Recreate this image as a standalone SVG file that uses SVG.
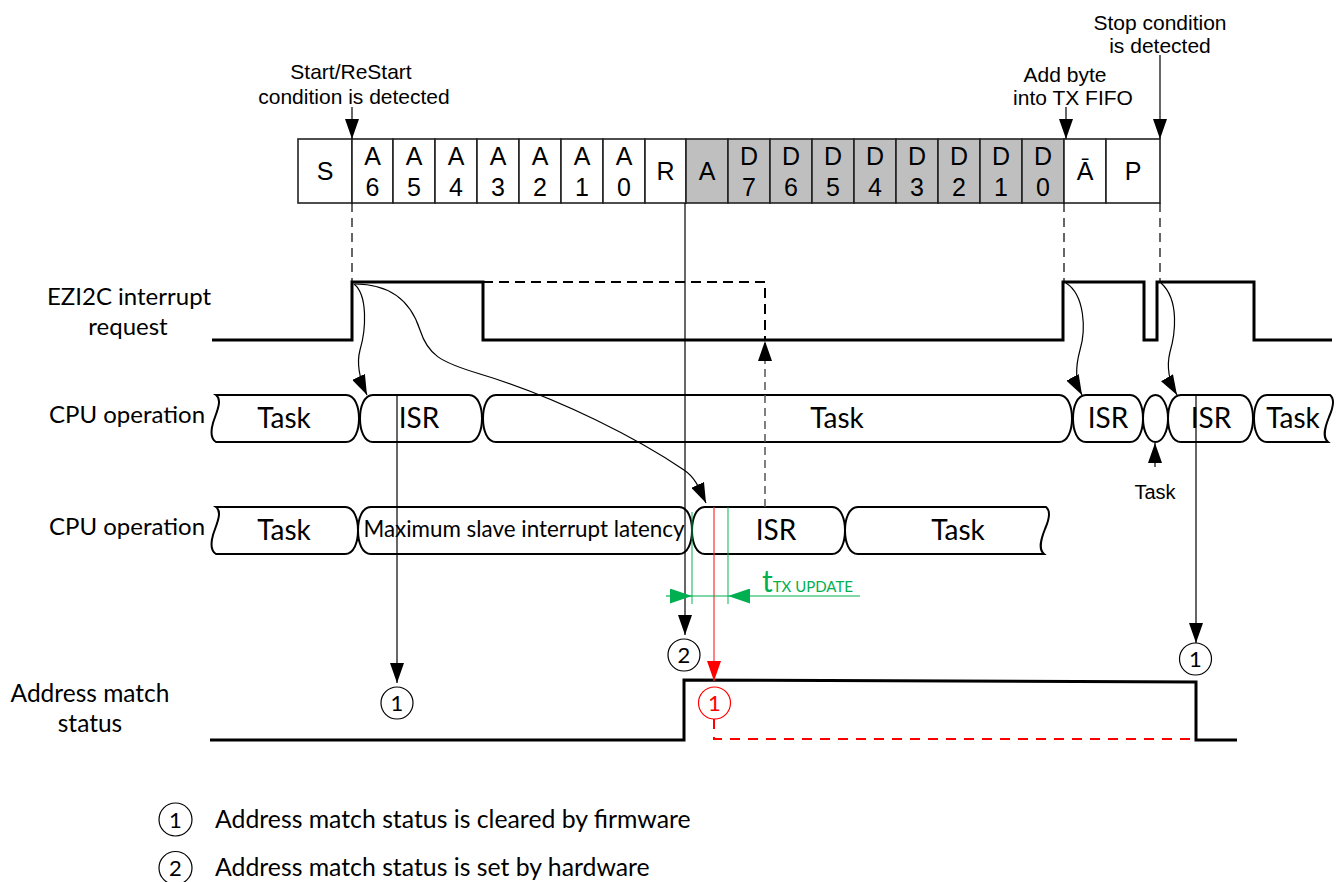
<svg xmlns="http://www.w3.org/2000/svg" width="1343" height="882" viewBox="0 0 1343 882">
<defs>
<style>
.ar{font-family:"Liberation Sans",Arial,sans-serif;fill:#000}
.cb{font-family:Lato,"Open Sans",sans-serif;fill:#000}
.cell{stroke:#222;stroke-width:1.6}
.wh{fill:#fff}
.gr{fill:#bfbfbf}
.seg{fill:#fff;stroke:#000;stroke-width:2}
.wave{fill:none;stroke:#000;stroke-width:3}
.thin{fill:none;stroke:#000;stroke-width:1.2}
.dsh{fill:none;stroke:#000;stroke-width:1.2;stroke-dasharray:9,6}
.circ{fill:#fff;stroke:#000;stroke-width:1.2}
</style>
<marker id="ah" viewBox="0 0 20 14" refX="20" refY="7" markerWidth="20" markerHeight="14" markerUnits="userSpaceOnUse" orient="auto"><path d="M0,0 L20,7 L0,14 Z" fill="#000"/></marker>
<marker id="ahr" viewBox="0 0 20 14" refX="20" refY="7" markerWidth="20" markerHeight="14" markerUnits="userSpaceOnUse" orient="auto"><path d="M0,0 L20,7 L0,14 Z" fill="#ff0000"/></marker>
<marker id="ahg" viewBox="0 0 22 15" refX="22" refY="7.5" markerWidth="22" markerHeight="15" markerUnits="userSpaceOnUse" orient="auto"><path d="M0,0 L22,7.5 L0,15 Z" fill="#00b050"/></marker>
</defs>
<rect width="1343" height="882" fill="#fff"/>

<!-- row labels -->
<g id="labels" class="cb" font-size="24" text-anchor="middle">
<text x="129" y="305">EZI2C interrupt</text>
<text x="128" y="335">request</text>
<text x="127" y="423">CPU operation</text>
<text x="127" y="535">CPU operation</text>
<text x="90" y="702" font-size="24.5">Address match</text>
<text x="90" y="732" font-size="24.5">status</text>
</g>

<!-- annotations -->
<g id="annotations" class="ar" font-size="21" text-anchor="middle">
<text x="351" y="79">Start/ReStart</text>
<text x="354" y="104">condition is detected</text>
<text x="1065" y="82">Add byte</text>
<text x="1073" y="105">into TX FIFO</text>
<text x="1160" y="30">Stop condition</text>
<text x="1160" y="53">is detected</text>
<text x="1155" y="499" font-size="20">Task</text>
</g>

<!-- bit field -->
<g id="bitfield" class="ar" font-size="25" text-anchor="middle">
<g id="bit-S"><rect class="cell wh" x="298" y="139" width="54" height="64"/><text x="325" y="180">S</text></g>
<g id="bit-A6"><rect class="cell wh" x="352" y="139" width="41" height="64"/><text x="372.5" y="165">A</text><text x="372.5" y="196">6</text></g>
<g id="bit-A5"><rect class="cell wh" x="393" y="139" width="42" height="64"/><text x="414" y="165">A</text><text x="414" y="196">5</text></g>
<g id="bit-A4"><rect class="cell wh" x="435" y="139" width="42" height="64"/><text x="456" y="165">A</text><text x="456" y="196">4</text></g>
<g id="bit-A3"><rect class="cell wh" x="477" y="139" width="42" height="64"/><text x="498" y="165">A</text><text x="498" y="196">3</text></g>
<g id="bit-A2"><rect class="cell wh" x="519" y="139" width="42" height="64"/><text x="540" y="165">A</text><text x="540" y="196">2</text></g>
<g id="bit-A1"><rect class="cell wh" x="561" y="139" width="42" height="64"/><text x="582" y="165">A</text><text x="582" y="196">1</text></g>
<g id="bit-A0"><rect class="cell wh" x="603" y="139" width="42" height="64"/><text x="624" y="165">A</text><text x="624" y="196">0</text></g>
<g id="bit-R"><rect class="cell wh" x="645" y="139" width="41" height="64"/><text x="665.5" y="180">R</text></g>
<g id="bit-A"><rect class="cell gr" x="686" y="139" width="42" height="64"/><text x="707" y="180">A</text></g>
<g id="bit-D7"><rect class="cell gr" x="728" y="139" width="42" height="64"/><text x="749" y="165">D</text><text x="749" y="196">7</text></g>
<g id="bit-D6"><rect class="cell gr" x="770" y="139" width="42" height="64"/><text x="791" y="165">D</text><text x="791" y="196">6</text></g>
<g id="bit-D5"><rect class="cell gr" x="812" y="139" width="42" height="64"/><text x="833" y="165">D</text><text x="833" y="196">5</text></g>
<g id="bit-D4"><rect class="cell gr" x="854" y="139" width="42" height="64"/><text x="875" y="165">D</text><text x="875" y="196">4</text></g>
<g id="bit-D3"><rect class="cell gr" x="896" y="139" width="42" height="64"/><text x="917" y="165">D</text><text x="917" y="196">3</text></g>
<g id="bit-D2"><rect class="cell gr" x="938" y="139" width="42" height="64"/><text x="959" y="165">D</text><text x="959" y="196">2</text></g>
<g id="bit-D1"><rect class="cell gr" x="980" y="139" width="42" height="64"/><text x="1001" y="165">D</text><text x="1001" y="196">1</text></g>
<g id="bit-D0"><rect class="cell gr" x="1022" y="139" width="42" height="64"/><text x="1043" y="165">D</text><text x="1043" y="196">0</text></g>
<g id="bit-NA"><rect class="cell wh" x="1064" y="139" width="42" height="64"/><text x="1085" y="180">Ā</text></g>
<g id="bit-P"><rect class="cell wh" x="1106" y="139" width="54" height="64"/><text x="1133" y="180">P</text></g>
</g>

<!-- waveforms -->
<g id="wave-irq"><path class="wave" d="M212,340 H352 V282 H483 V340 H1063 V282 H1144 V340 H1157 V282 H1254 V340 H1332"/></g>
<g id="wave-addr"><path class="wave" d="M210,740 H684 V680 L1196,682 V740 H1237"/></g>

<!-- CPU row 1 -->
<g id="cpu1">
<g id="cpu1-task1"><path class="seg" d="M216,395 H346 C355,395 359,407 359,418.5 C359,430 355,442 346,442 H216 C210,438 211,430 213,423 C216,413 223,400 216,395 Z"/><text class="cb" x="284" y="428" font-size="28" text-anchor="middle">Task</text></g>
<g id="cpu1-isr1"><path class="seg" d="M373,395 H469 C478,395 482,407 482,418.5 C482,430 478,442 469,442 H373 C364,442 360,430 360,418.5 C360,407 364,395 373,395 Z"/><text class="cb" x="419" y="428" font-size="28" text-anchor="middle">ISR</text></g>
<g id="cpu1-task2"><path class="seg" d="M496,395 H1059 C1068,395 1072,407 1072,418.5 C1072,430 1068,442 1059,442 H496 C487,442 483,430 483,418.5 C483,407 487,395 496,395 Z"/><text class="cb" x="837" y="428" font-size="28" text-anchor="middle">Task</text></g>
<g id="cpu1-isr2"><path class="seg" d="M1086,395 H1130 C1139,395 1143,407 1143,418.5 C1143,430 1139,442 1130,442 H1086 C1077,442 1073,430 1073,418.5 C1073,407 1077,395 1086,395 Z"/><text class="cb" x="1108" y="428" font-size="28" text-anchor="middle">ISR</text></g>
<g id="cpu1-task3"><ellipse class="seg" cx="1155.5" cy="418.5" rx="12.5" ry="23.5"/></g>
<g id="cpu1-isr3"><path class="seg" d="M1181,395 H1240 C1249,395 1253,407 1253,418.5 C1253,430 1249,442 1240,442 H1181 C1172,442 1168,430 1168,418.5 C1168,407 1172,395 1181,395 Z"/><text class="cb" x="1211" y="428" font-size="28" text-anchor="middle">ISR</text></g>
<g id="cpu1-task4"><path class="seg" d="M1267,395 H1330 C1335,399 1333,408 1329,417 C1325,427 1322,437 1328,442 H1267 C1258,442 1254,430 1254,418.5 C1254,407 1258,395 1267,395 Z"/><text class="cb" x="1293" y="428" font-size="28" text-anchor="middle">Task</text></g>
</g>

<!-- CPU row 2 -->
<g id="cpu2">
<g id="cpu2-task1"><path class="seg" d="M216,507 H345 C354,507 358,519 358,530.5 C358,542 354,554 345,554 H216 C210,550 211,542 213,535 C216,525 223,512 216,507 Z"/><text class="cb" x="284" y="540" font-size="28" text-anchor="middle">Task</text></g>
<g id="cpu2-latency"><path class="seg" d="M371,507 H679 C688,507 692,519 692,530.5 C692,542 688,554 679,554 H371 C362,554 358,542 358,530.5 C358,519 362,507 371,507 Z"/><text class="cb" x="524" y="537" font-size="22.4" text-anchor="middle">Maximum slave interrupt latency</text></g>
<g id="cpu2-isr"><path class="seg" d="M705,507 H832 C841,507 845,519 845,530.5 C845,542 841,554 832,554 H705 C696,554 692,542 692,530.5 C692,519 696,507 705,507 Z"/><text class="cb" x="776" y="540" font-size="28" text-anchor="middle">ISR</text></g>
<g id="cpu2-task2"><path class="seg" d="M858,507 H1046 C1051,511 1049,520 1045,529 C1041,539 1038,549 1044,554 H858 C849,554 845,542 845,530.5 C845,519 849,507 858,507 Z"/><text class="cb" x="958" y="540" font-size="28" text-anchor="middle">Task</text></g>
</g>

<!-- connectors -->
<g id="connectors">
<path class="thin" d="M352,107 V139" marker-end="url(#ah)"/>
<path class="thin" d="M1066,107 V139" marker-end="url(#ah)"/>
<path class="thin" d="M1160,55 V139" marker-end="url(#ah)"/>
<path class="dsh" d="M352,203 V282"/>
<path class="dsh" d="M1064,203 V282"/>
<path class="dsh" d="M1160,203 V282"/>
<path d="M483,282 H765 V340" fill="none" stroke="#000" stroke-width="2" stroke-dasharray="10,6"/>
<path d="M765,507 V341" fill="none" stroke="#555" stroke-width="1.5" stroke-dasharray="8,5" marker-end="url(#ah)"/>
<path class="thin" d="M354,284 C368,295 366,330 360,350 C356,365 360,380 367,395" marker-end="url(#ah)"/>
<path class="thin" d="M355,284 C395,284 412,305 420,330 C428,355 440,362 480,374 C560,398 640,440 684,470 C696,478 700,490 706,503" marker-end="url(#ah)"/>
<path class="thin" d="M1066,283 C1085,295 1086,330 1080,350 C1075,368 1075,382 1082,395" marker-end="url(#ah)"/>
<path class="thin" d="M1161,283 C1180,300 1175,335 1170,352 C1166,368 1170,383 1177,395" marker-end="url(#ah)"/>
<path class="thin" d="M1155,467 V443" marker-end="url(#ah)"/>
<path class="thin" d="M397,395 V683" marker-end="url(#ah)"/>
<path class="thin" d="M1196,395 V643" marker-end="url(#ah)"/>
<path class="thin" d="M685,203 V635" marker-end="url(#ah)"/>
<path d="M714,507 V681" fill="none" stroke="#ff3030" stroke-width="1.2" marker-end="url(#ahr)"/>
<path d="M714,719 V739 H1196" fill="none" stroke="#ff0000" stroke-width="2" stroke-dasharray="10,8"/>
<path d="M692,512 V604 M728,507 V604" fill="none" stroke="#00b050" stroke-width="1.2" stroke-opacity="0.8"/>
<path d="M692,596 H728" fill="none" stroke="#00b050" stroke-width="1.2"/>
<path d="M666,596 H692" fill="none" stroke="#00b050" stroke-width="1.2" marker-end="url(#ahg)"/>
<path d="M860,596 H728" fill="none" stroke="#00b050" stroke-width="1.2" marker-end="url(#ahg)"/>
<text class="cb" x="762" y="592" font-size="30" style="fill:#00b050">t<tspan font-size="15">TX UPDATE</tspan></text>
</g>

<!-- markers -->
<g id="mark-1a"><circle class="circ" cx="397" cy="703" r="16"/><text class="cb" x="397" y="711" font-size="22" text-anchor="middle">1</text></g>
<g id="mark-1b"><circle cx="714.5" cy="703" r="16" fill="#fff" stroke="#ff0000" stroke-width="1.2"/><text class="cb" x="714.5" y="711" font-size="22" text-anchor="middle" style="fill:#ff0000">1</text></g>
<g id="mark-1c"><circle class="circ" cx="1195.5" cy="659" r="16"/><text class="cb" x="1195.5" y="667" font-size="22" text-anchor="middle">1</text></g>
<g id="mark-2"><circle class="circ" cx="684" cy="655" r="16"/><text class="cb" x="684" y="663" font-size="22" text-anchor="middle">2</text></g>

<!-- legend -->
<g id="legend">
<g id="legend-1"><circle class="circ" cx="175.5" cy="819.5" r="16.5"/><text class="cb" x="175.5" y="828" font-size="22" text-anchor="middle">1</text><text class="cb" x="215" y="828" font-size="24.8">Address match status is cleared by firmware</text></g>
<g id="legend-2"><circle class="circ" cx="175.5" cy="868" r="16.5"/><text class="cb" x="175.5" y="876" font-size="22" text-anchor="middle">2</text><text class="cb" x="215" y="876" font-size="24.8">Address match status is set by hardware</text></g>
</g>
</svg>
